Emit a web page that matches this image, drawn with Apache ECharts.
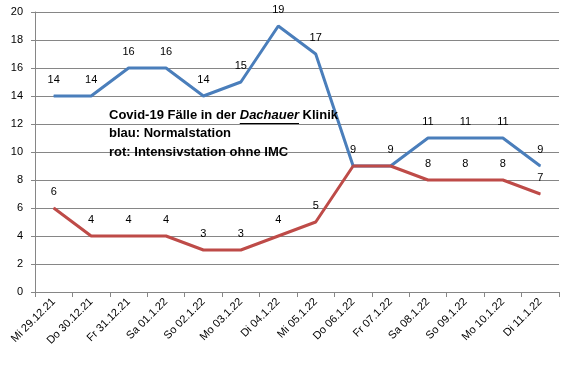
<!DOCTYPE html>
<html><head><meta charset="utf-8">
<script src="https://cdn.jsdelivr.net/npm/echarts@6/dist/echarts.min.js"></script>
<style>html,body{margin:0;padding:0;background:#fff}#c{width:565px;height:376px}</style>
</head><body><div id="c"></div>
<script>
const categories = ['Mi 29.12.21','Do 30.12.21','Fr 31.12.21','Sa 01.1.22','So 02.1.22','Mo 03.1.22','Di 04.1.22','Mi 05.1.22','Do 06.1.22','Fr 07.1.22','Sa 08.1.22','So 09.1.22','Mo 10.1.22','Di 11.1.22'];
const normalstation = [14,14,16,16,14,15,19,17,9,9,11,11,11,9];
const intensivstation = [6,4,4,4,3,3,4,5,9,9,8,8,8,7];
const yTicks = [0,2,4,6,8,10,12,14,16,18,20];

const FONT = 'Liberation Sans';
const chart = echarts.init(document.getElementById('c'));

const cv = document.createElement('canvas').getContext('2d');
cv.font = 'bold 13px "' + FONT + '"';
const preW = cv.measureText('Covid-19 Fälle in der ').width;
cv.font = 'italic bold 13px "' + FONT + '"';
const dW = cv.measureText('Dachauer').width;
const tx = 109, ty1 = 118;

const lbl = {show:true,position:'top',distance:10,fontFamily:FONT,fontSize:11,color:'#000'};
// red labels coinciding with blue ones (same value) are drawn once
const redData = intensivstation.map((v,i)=> v===normalstation[i] ? {value:v,label:{show:false}} : v);

chart.setOption({
  animation:false,
  grid:{left:35,right:6,top:12,bottom:84},
  xAxis:{type:'category',data:categories,boundaryGap:true,
    axisLine:{lineStyle:{color:'#868686'}},
    axisTick:{show:true,length:5,lineStyle:{color:'#868686'}},
    axisLabel:{rotate:45,fontFamily:FONT,fontSize:11,color:'#000',margin:8,interval:0}
  },
  yAxis:{type:'value',min:0,max:20,interval:2,
    axisLine:{show:true,lineStyle:{color:'#868686'}},
    axisTick:{show:true,length:4,lineStyle:{color:'#868686'}},
    splitLine:{lineStyle:{color:'#868686'}},
    axisLabel:{fontFamily:FONT,fontSize:11,color:'#000',margin:12,
      formatter:v=>yTicks.includes(v)?String(v):''}
  },
  series:[
    {type:'line',data:normalstation,symbol:'circle',symbolSize:1,showSymbol:true,
     lineStyle:{color:'#4A7EBB',width:3},itemStyle:{color:'#4A7EBB'},label:lbl},
    {type:'line',data:redData,symbol:'circle',symbolSize:1,showSymbol:true,
     lineStyle:{color:'#BE4B48',width:3},itemStyle:{color:'#BE4B48'},label:lbl}
  ],
  graphic:[
    {type:'text',left:tx,top:ty1-9.25,z:100,style:{
      rich:{a:{fontFamily:FONT,fontWeight:'bold',fontSize:13,fill:'#000',lineHeight:18.5},
            b:{fontFamily:FONT,fontWeight:'bold',fontStyle:'italic',fontSize:13,fill:'#000',lineHeight:18.5}},
      text:'{a|Covid-19 Fälle in der }{b|Dachauer}{a| Klinik}\n{a|blau: Normalstation}\n{a|rot: Intensivstation ohne IMC}'
    }},
    {type:'line',z:100,shape:{x1:tx+preW,y1:ty1+5.5,x2:tx+preW+dW,y2:ty1+5.5},style:{stroke:'#000',lineWidth:1}}
  ]
});
</script></body></html>
